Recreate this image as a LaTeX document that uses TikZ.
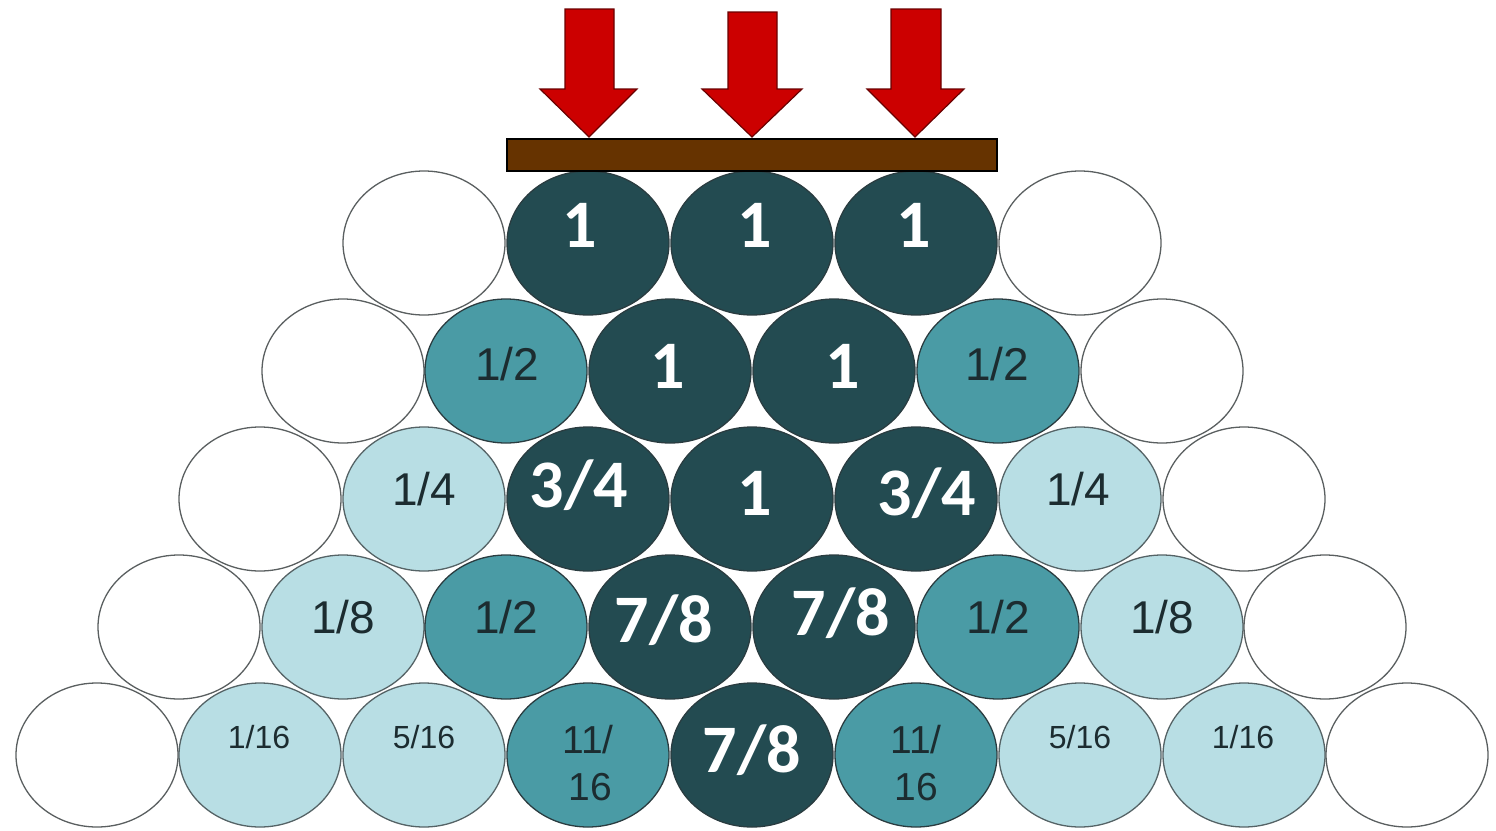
\documentclass[tikz,border=0pt]{standalone}
\usepackage{fontspec}
\setmainfont{Liberation Sans}
\newfontfamily\calfont{Carlito}
\usetikzlibrary{shapes.geometric}
\definecolor{cdark}{HTML}{234B51}
\definecolor{cmid}{HTML}{4A9BA5}
\definecolor{clight}{HTML}{B8DEE4}
\definecolor{cline}{HTML}{2A3C40}
\definecolor{cwline}{HTML}{5A5F60}
\definecolor{ctext}{HTML}{1C2C30}
\definecolor{carrow}{HTML}{CC0000}
\definecolor{carrowline}{HTML}{6A0000}
\definecolor{cbar}{HTML}{663300}
\tikzset{
  ball/.style={ellipse, minimum width=162pt, minimum height=144pt, inner sep=0pt, line width=1.3pt},
  wball/.style={ball, draw=cwline, fill=white},
  dball/.style={ball, draw=cline, fill=cdark},
  mball/.style={ball, draw=cline, fill=cmid},
  lball/.style={ball, draw=cline!80, fill=clight},
  wlab/.style={anchor=base, inner sep=0pt, text=white, font=\calfont\bfseries\fontsize{68}{68}\selectfont},
  glab/.style={anchor=base, inner sep=0pt, text=ctext, font=\fontsize{46}{46}\selectfont},
  slab/.style={anchor=base, inner sep=0pt, text=ctext, font=\fontsize{32}{32}\selectfont},
  tlab/.style={anchor=base, inner sep=0pt, text=ctext, font=\fontsize{39}{39}\selectfont},
  forcearrow/.style={fill=carrow, draw=carrowline, line width=1.2pt, line join=miter},
  plank/.style={fill=cbar, draw=black, line width=1.2pt}
}
\begin{document}
\begin{tikzpicture}[x=1pt,y=-1pt]
\useasboundingbox (0,0) rectangle (1496,830);
% row 1
\node[wball] (r1a) at (424,243) {};
\node[dball] (r1b) at (588,243) {};
\node[dball] (r1c) at (752,243) {};
\node[dball] (r1d) at (916,243) {};
\node[wball] (r1e) at (1080,243) {};
% row 2
\node[wball] (r2a) at (343,371) {};
\node[mball] (r2b) at (506,371) {};
\node[dball] (r2c) at (670,371) {};
\node[dball] (r2d) at (834,371) {};
\node[mball] (r2e) at (998,371) {};
\node[wball] (r2f) at (1162,371) {};
% row 3
\node[wball] (r3a) at (260,499) {};
\node[lball] (r3b) at (424,499) {};
\node[dball] (r3c) at (588,499) {};
\node[dball] (r3d) at (752,499) {};
\node[dball] (r3e) at (916,499) {};
\node[lball] (r3f) at (1080,499) {};
\node[wball] (r3g) at (1244,499) {};
% row 4
\node[wball] (r4a) at (179,627) {};
\node[lball] (r4b) at (343,627) {};
\node[mball] (r4c) at (506,627) {};
\node[dball] (r4d) at (670,627) {};
\node[dball] (r4e) at (834,627) {};
\node[mball] (r4f) at (998,627) {};
\node[lball] (r4g) at (1162,627) {};
\node[wball] (r4h) at (1325,627) {};
% row 5
\node[wball] (r5a) at (97,755) {};
\node[lball] (r5b) at (260,755) {};
\node[lball] (r5c) at (424,755) {};
\node[mball] (r5d) at (588,755) {};
\node[dball] (r5e) at (752,755) {};
\node[mball] (r5f) at (916,755) {};
\node[lball] (r5g) at (1080,755) {};
\node[lball] (r5h) at (1244,755) {};
\node[wball] (r5i) at (1407,755) {};
% plank
\draw[plank] (507,139) rectangle (997,171);
% arrows
\draw[forcearrow] (565,9) -- (614,9) -- (614,89) -- (637,89) -- (589,137) -- (540,89) -- (565,89) -- cycle;
\draw[forcearrow] (728,12) -- (777,12) -- (777,89) -- (802,89) -- (752,137) -- (702,89) -- (728,89) -- cycle;
\draw[forcearrow] (891,9) -- (941,9) -- (941,89) -- (964,89) -- (915,137) -- (867,89) -- (891,89) -- cycle;
% white labels
\node[wlab] (t1b) at (580,247) {1};
\node[wlab] (t1c) at (755,247) {1};
\node[wlab] (t1d) at (914,247) {1};
\node[wlab] (t2c) at (668,388) {1};
\node[wlab] (t2d) at (843,388) {1};
\node[wlab] (t3c) at (579,507) {3/4};
\node[wlab] (t3d) at (755,515) {1};
\node[wlab] (t3e) at (927,515) {3/4};
\node[wlab] (t4d) at (664,642) {7/8};
\node[wlab] (t4e) at (841,635) {7/8};
\node[wlab] (t5e) at (752,772) {7/8};
% gray labels
\node[glab] (t2b) at (507,380) {1/2};
\node[glab] (t2e) at (997,380) {1/2};
\node[glab] (t3b) at (424,505) {1/4};
\node[glab] (t3f) at (1078,505) {1/4};
\node[glab] (t4b) at (343,633) {1/8};
\node[glab] (t4c) at (506,633) {1/2};
\node[glab] (t4f) at (998,633) {1/2};
\node[glab] (t4g) at (1162,633) {1/8};
\node[slab] (t5b) at (259,748) {1/16};
\node[slab] (t5c) at (424,748) {5/16};
\node[slab] (t5g) at (1080,748) {5/16};
\node[slab] (t5h) at (1243,748) {1/16};
\node[tlab] (t5d1) at (588,753) {11/};
\node[tlab] (t5d2) at (590,800) {16};
\node[tlab] (t5f1) at (916,753) {11/};
\node[tlab] (t5f2) at (916,800) {16};
\end{tikzpicture}
\end{document}
